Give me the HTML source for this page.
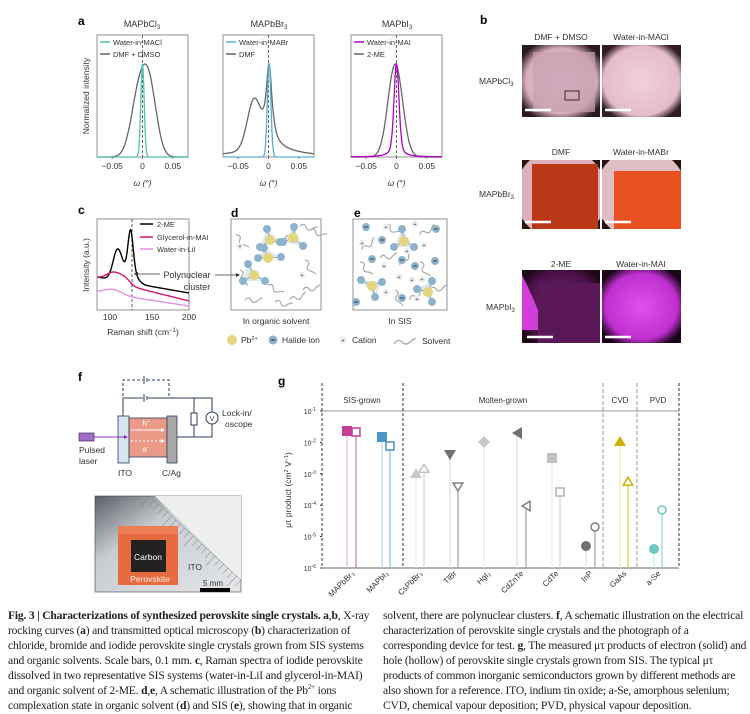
<!DOCTYPE html>
<html><head><meta charset="utf-8"><style>
body{margin:0;background:#fff;width:750px;height:714px;overflow:hidden;position:relative}
svg{position:absolute;left:0;top:0}
text{font-family:"Liberation Sans",sans-serif;fill:#333}
.cap{position:absolute;font-family:"Liberation Serif",serif;font-size:11.6px;line-height:15px;color:#222;width:370px;letter-spacing:-0.2px}
</style></head><body>
<svg id="s" width="750" height="714" viewBox="0 0 750 714">
<defs>
<radialGradient id="gc1" cx="0.5" cy="0.5" r="0.6"><stop offset="0" stop-color="#e8c8d4"/><stop offset="0.75" stop-color="#d8aebc"/><stop offset="1" stop-color="#2a1a20"/></radialGradient>
<radialGradient id="gc2" cx="0.5" cy="0.5" r="0.6"><stop offset="0" stop-color="#f0d0dc"/><stop offset="0.8" stop-color="#e4bccb"/><stop offset="1" stop-color="#301c24"/></radialGradient>
<radialGradient id="gi1" cx="0.5" cy="0.5" r="0.6"><stop offset="0" stop-color="#7a2a7a"/><stop offset="0.8" stop-color="#4a1048"/><stop offset="1" stop-color="#200818"/></radialGradient>
<radialGradient id="gi2" cx="0.5" cy="0.5" r="0.6"><stop offset="0" stop-color="#e050f0"/><stop offset="0.75" stop-color="#c030d0"/><stop offset="1" stop-color="#1a0418"/></radialGradient>
<clipPath id="cb1"><rect x="522" y="160" width="78" height="69"/></clipPath>
<clipPath id="cb2"><rect x="602" y="160" width="79" height="69"/></clipPath>
<clipPath id="ci1"><rect x="522" y="270" width="78" height="73"/></clipPath>
<linearGradient id="ph" x1="0" y1="0" x2="1" y2="1"><stop offset="0" stop-color="#5a6068"/><stop offset="0.35" stop-color="#c8ccd0"/><stop offset="1" stop-color="#e4e6e8"/></linearGradient>
</defs>
<g font-size="8">
<text x="78" y="25" font-weight="bold" font-size="12" style="fill:#000">a</text>
<text x="480" y="24" font-weight="bold" font-size="12" style="fill:#000">b</text>
<text x="78" y="214" font-weight="bold" font-size="12" style="fill:#000">c</text>
<text x="231" y="217" font-weight="bold" font-size="12" style="fill:#000">d</text>
<text x="354" y="217" font-weight="bold" font-size="12" style="fill:#000">e</text>
<text x="78" y="381" font-weight="bold" font-size="12" style="fill:#000">f</text>
<text x="278" y="385" font-weight="bold" font-size="12" style="fill:#000">g</text>

<text x="142" y="27" text-anchor="middle" font-size="9">MAPbCl<tspan font-size="6" dy="2">3</tspan></text>
<text x="269" y="27" text-anchor="middle" font-size="9">MAPbBr<tspan font-size="6" dy="2">3</tspan></text>
<text x="397" y="27" text-anchor="middle" font-size="9">MAPbI<tspan font-size="6" dy="2">3</tspan></text>
<text transform="translate(89,96) rotate(-90)" text-anchor="middle" font-size="8.5">Normalized intensity</text>
<g id="pa"></g>

<text x="561" y="40" text-anchor="middle" font-size="8.5">DMF + DMSO</text>
<text x="641" y="40" text-anchor="middle" font-size="8.5">Water-in-MACl</text>
<text x="561" y="155" text-anchor="middle" font-size="8.5">DMF</text>
<text x="641" y="155" text-anchor="middle" font-size="8.5">Water-in-MABr</text>
<text x="561" y="267" text-anchor="middle" font-size="8.5">2-ME</text>
<text x="641" y="267" text-anchor="middle" font-size="8.5">Water-in-MAI</text>
<text x="479" y="84" font-size="8.5">MAPbCl<tspan font-size="6" dy="2">3</tspan></text>
<text x="479" y="197" font-size="8.5">MAPbBr<tspan font-size="6" dy="2">3</tspan></text>
<text x="486" y="310" font-size="8.5">MAPbI<tspan font-size="6" dy="2">3</tspan></text>
<rect x="522" y="45" width="78" height="72" fill="url(#gc1)"/>
<rect x="533" y="52" width="62" height="60" fill="#c8a0b0" opacity="0.7"/>
<rect x="565" y="91" width="14" height="9" fill="none" stroke="#3a2a2a"/>
<rect x="602" y="45" width="79" height="72" fill="url(#gc2)"/>
<g clip-path="url(#cb1)">
<rect x="522" y="160" width="78" height="69" fill="#2a1410"/>
<circle cx="561" cy="194" r="46" fill="#dcb0b8"/>
<rect x="532" y="164" width="66" height="65" fill="#b83818"/>
</g>
<g clip-path="url(#cb2)">
<rect x="602" y="160" width="79" height="69" fill="#2a1410"/>
<circle cx="641" cy="194" r="46" fill="#e0bcc4"/>
<rect x="614" y="171" width="67" height="58" fill="#e85020"/>
</g>
<g clip-path="url(#ci1)">
<rect x="522" y="270" width="78" height="73" fill="url(#gi1)"/>
<path d="M522 275 Q535 300 545 330 L522 330 Z" fill="#d040d8"/>
<rect x="538" y="283" width="62" height="60" fill="#5a1858"/>
</g>
<rect x="602" y="270" width="79" height="73" fill="url(#gi2)"/>
<g stroke="#fff" stroke-width="2.5">
<line x1="525" y1="110" x2="551" y2="110"/><line x1="605" y1="110" x2="631" y2="110"/>
<line x1="525" y1="222" x2="551" y2="222"/><line x1="605" y1="222" x2="631" y2="222"/>
<line x1="527" y1="337" x2="553" y2="337"/><line x1="605" y1="337" x2="631" y2="337"/>
</g>

<rect x="97" y="219" width="92" height="91" fill="none" stroke="#777" stroke-width="0.8"/>
<line x1="132" y1="219" x2="132" y2="310" stroke="#333" stroke-dasharray="3,2" stroke-width="0.8"/>
<g id="pc"></g>
<text transform="translate(89,265) rotate(-90)" text-anchor="middle" font-size="8.5">Intensity (a.u.)</text>
<text x="110" y="320" text-anchor="middle" font-size="8.5">100</text>
<text x="152" y="320" text-anchor="middle" font-size="8.5">150</text>
<text x="189" y="320" text-anchor="middle" font-size="8.5">200</text>
<text x="143" y="335" text-anchor="middle" font-size="8.5">Raman shift (cm<tspan font-size="6" dy="-3">−1</tspan><tspan dy="3">)</tspan></text>
<line x1="140" y1="224" x2="153" y2="224" stroke="#000" stroke-width="1.5"/><text x="157" y="227" font-size="7.5">2-ME</text>
<line x1="140" y1="237" x2="153" y2="237" stroke="#d6156f" stroke-width="1.5"/><text x="157" y="240" font-size="7.5">Glycerol-in-MAI</text>
<line x1="140" y1="249" x2="153" y2="249" stroke="#e090e0" stroke-width="1.5"/><text x="157" y="252" font-size="7.5">Water-in-LiI</text>
<line x1="134" y1="274" x2="160" y2="274" stroke="#333" stroke-width="0.8"/><path d="M134 274 l4 -2 v4z" fill="#333"/>
<line x1="215" y1="275" x2="238" y2="275" stroke="#333" stroke-width="0.8"/><path d="M240 275 l-4 -2 v4z" fill="#333"/>
<text x="187" y="278" text-anchor="middle" font-size="9">Polynuclear</text>
<text x="197" y="290" text-anchor="middle" font-size="9">cluster</text>

<rect x="231" y="219" width="90" height="91" fill="none" stroke="#777" stroke-width="0.8"/>
<rect x="353" y="219" width="94" height="91" fill="none" stroke="#777" stroke-width="0.8"/>
<g id="pde"></g>
<text x="276" y="324" text-anchor="middle" font-size="8.5">In organic solvent</text>
<text x="400" y="324" text-anchor="middle" font-size="8.5">In SIS</text>
<circle cx="232" cy="340" r="5" fill="#e3d67e"/><text x="241" y="343" font-size="8.5">Pb<tspan font-size="5.5" dy="-3">2+</tspan></text>
<circle cx="273" cy="340" r="4.5" fill="#8fb2cc"/><line x1="271" y1="340" x2="275" y2="340" stroke="#222"/><text x="282" y="343" font-size="8.5">Halide ion</text>
<circle cx="343" cy="340" r="4" fill="#f0f0f0"/><text x="343" y="342.5" font-size="6" text-anchor="middle">+</text><text x="352" y="343" font-size="8.5">Cation</text>
<path d="M394 344 q4 -6 8 -2 t8 0 t6 -3" fill="none" stroke="#aaa" stroke-width="1.3"/><text x="422" y="344" font-size="8.5">Solvent</text>

<g stroke="#2c3e5e" stroke-width="1" fill="none">
<path d="M123 416 V380 H169 V398" stroke-dasharray="3,2"/>
<path d="M123 416 V398 H212 V412"/>
<path d="M177 437 H212 V424"/>
<path d="M194 398 V413 M194 425 V437"/>
<rect x="191" y="413" width="6" height="12" fill="#fff"/>
<circle cx="212" cy="418" r="6" fill="#fff"/>
</g>
<rect x="143" y="376" width="5" height="8" fill="#fff"/><line x1="144" y1="376" x2="144" y2="384" stroke="#2c3e5e"/><line x1="147" y1="378" x2="147" y2="382" stroke="#2c3e5e"/>
<rect x="143" y="394" width="5" height="8" fill="#fff"/><line x1="144" y1="394" x2="144" y2="402" stroke="#2c3e5e"/><line x1="147" y1="396" x2="147" y2="400" stroke="#2c3e5e"/>
<text x="212" y="421" text-anchor="middle" font-size="7">V</text>
<rect x="118" y="416" width="11" height="47" fill="#d6e4f0" stroke="#2c3e5e" stroke-width="0.8"/>
<rect x="129" y="418" width="38" height="39" fill="#ec9a88" stroke="#2c3e5e" stroke-width="0.8"/>
<rect x="167" y="416" width="10" height="47" fill="#a8a8a8" stroke="#2c3e5e" stroke-width="0.8"/>
<line x1="131" y1="430" x2="162" y2="430" stroke="#fff" stroke-width="1"/><path d="M165 430 l-4 -2 v4z" fill="#fff"/>
<line x1="131" y1="441" x2="162" y2="441" stroke="#fff" stroke-width="1" stroke-dasharray="2,2"/><path d="M165 441 l-4 -2 v4z" fill="#fff"/>
<text x="146" y="426" text-anchor="middle" font-size="8" style="fill:#fff">h<tspan font-size="5" dy="-3">+</tspan></text>
<text x="146" y="452" text-anchor="middle" font-size="8" style="fill:#fff">e<tspan font-size="5" dy="-3">−</tspan></text>
<rect x="79" y="433" width="15" height="8" fill="#a070c8" stroke="#4a2a6a" stroke-width="0.7"/>
<line x1="94" y1="437" x2="124" y2="437" stroke="#8030c0" stroke-width="1"/><path d="M128 437 l-4 -2 v4z" fill="#8030c0"/>
<text x="79" y="453" font-size="8.5">Pulsed</text><text x="79" y="464" font-size="8.5">laser</text>
<text x="118" y="476" font-size="8.5">ITO</text><text x="162" y="476" font-size="8.5">C/Ag</text>
<text x="222" y="416" font-size="8.5">Lock-in/</text><text x="225" y="427" font-size="8.5">oscope</text>
<rect x="95" y="496" width="146" height="96" fill="url(#ph)" stroke="#444" stroke-width="0.6"/>
<path d="M155 496 L241 496 L241 580 Z" fill="#eef0f0"/>
<g id="ruler" stroke="#666" stroke-width="0.5"></g>
<rect x="118" y="526" width="60" height="59" fill="#e86a40"/>
<rect x="118" y="526" width="60" height="8" fill="#f08a60" opacity="0.6"/>
<rect x="131" y="540" width="35" height="32" fill="#222"/>
<text x="148" y="560" text-anchor="middle" font-size="8.5" style="fill:#fff">Carbon</text>
<text x="150" y="582" text-anchor="middle" font-size="8.5" style="fill:#fff0e8">Perovskite</text>
<text x="188" y="570" font-size="8.5">ITO</text>
<text x="203" y="586" font-size="8">5 mm</text>
<rect x="200" y="588" width="30" height="4" fill="#000"/>
<g id="pg"></g>
</g>
</svg>
<div class="cap" style="left:8px;top:608px"><b>Fig. 3 | Characterizations of synthesized perovskite single crystals. a</b>,<b>b</b>, X-ray rocking curves (<b>a</b>) and transmitted optical microscopy (<b>b</b>) characterization of chloride, bromide and iodide perovskite single crystals grown from SIS systems and organic solvents. Scale bars, 0.1 mm. <b>c</b>, Raman spectra of iodide perovskite dissolved in two representative SIS systems (water-in-LiI and glycerol-in-MAI) and organic solvent of 2-ME. <b>d</b>,<b>e</b>, A schematic illustration of the Pb<sup style="font-size:7px;line-height:0">2+</sup> ions complexation state in organic solvent (<b>d</b>) and SIS (<b>e</b>), showing that in organic</div>
<div class="cap" style="left:383px;top:608px">solvent, there are polynuclear clusters. <b>f</b>, A schematic illustration on the electrical characterization of perovskite single crystals and the photograph of a corresponding device for test. <b>g</b>, The measured μτ products of electron (solid) and hole (hollow) of perovskite single crystals grown from SIS. The typical μτ products of common inorganic semiconductors grown by different methods are also shown for a reference. ITO, indium tin oxide; a-Se, amorphous selenium; CVD, chemical vapour deposition; PVD, physical vapour deposition.</div>
<script>
const NS="http://www.w3.org/2000/svg";
function el(p,t,a,txt){const e=document.createElementNS(NS,t);for(const k in a)e.setAttribute(k,a[k]);if(txt!==undefined)e.textContent=txt;document.getElementById(p).appendChild(e);return e;}
const G=(x,m,s)=>Math.exp(-((x-m)**2)/(2*s*s));
const L=(x,m,w)=>1/(1+((x-m)/w)**2);
const plots=[[97,[["#666",x=>0.9*G(x,-0.006,0.013)+0.9*G(x,0.012,0.012)],["#4fc3b0",x=>G(x,0,0.0028)]],["Water-in-MACl","DMF + DMSO"],"#4fc3b0"],
[223,[["#666",x=>0.72*L(x,0.001,0.006)+0.42*G(x,-0.024,0.011)+0.08*L(x,0,0.05)],["#5aaedc",x=>G(x,0.001,0.003)]],["Water-in-MABr","DMF"],"#5aaedc"],
[351,[["#666",x=>G(x,-0.002,0.012)],["#b000c8",x=>0.8*G(x,0,0.004)+0.2*L(x,0,0.008)]],["Water-in-MAI","2-ME"],"#b000c8"]];
plots.forEach(([x0,curves,leg,col])=>{
 const w=91,top=35,bot=157,pk=64;
 const X=v=>x0+(v+0.075)/0.15*w;
 el("pa","rect",{x:x0,y:top,width:w,height:bot-top,fill:"none",stroke:"#777","stroke-width":0.8});
 el("pa","line",{x1:X(0),y1:top,x2:X(0),y2:bot,stroke:"#444","stroke-dasharray":"3,2","stroke-width":0.8});
 curves.forEach(([c,f])=>{let mx=0;for(let v=-0.075;v<=0.075;v+=0.0005)mx=Math.max(mx,f(v));let d="";for(let v=-0.075;v<=0.0751;v+=0.0005){d+=(d?"L":"M")+X(v).toFixed(1)+" "+(bot-(f(v)/mx)*(bot-pk)).toFixed(1);}el("pa","path",{d,fill:"none",stroke:c,"stroke-width":1.3});});
 [-0.05,0,0.05].forEach(v=>{el("pa","line",{x1:X(v),y1:bot,x2:X(v),y2:bot+2,stroke:"#777"});el("pa","text",{x:X(v),y:bot+12,"text-anchor":"middle","font-size":8.5},v===0?"0":v.toFixed(2).replace("-","−"))});
 el("pa","text",{x:X(0),y:186,"text-anchor":"middle","font-size":8.5,"font-style":"italic"},"ω (°)");
 el("pa","line",{x1:x0+3,y1:42,x2:x0+13,y2:42,stroke:col,"stroke-width":1.5});
 el("pa","text",{x:x0+16,y:45,"font-size":7.5},leg[0]);
 el("pa","line",{x1:x0+3,y1:54,x2:x0+13,y2:54,stroke:"#666","stroke-width":1.5});
 el("pa","text",{x:x0+16,y:57,"font-size":7.5},leg[1]);
});
const CX2=v=>110+(v-100)*0.79;
function lin(v,a,b){return a+(b-a)*(v-84)/116;}
const cf=[["#000",v=>lin(v,277,293)-26*G(v,109,5.5)-42*G(v,126,3.3)-10*G(v,117,7)-8*G(v,130,6)],
["#d6156f",v=>lin(v,278,301)-10*G(v,106,10)-4*G(v,120,6)],
["#e090e0",v=>lin(v,292,306)-5*G(v,104,11)]];
cf.forEach(([c,f])=>{let d="";for(let v=84;v<=200;v+=0.5){d+=(d?"L":"M")+CX2(v).toFixed(1)+" "+f(v).toFixed(1);}el("pc","path",{d,fill:"none",stroke:c,"stroke-width":1.4});});
function wave(x,y,r){el("pde","path",{d:`M${x} ${y} q3 -5 6 -1 t6 0 t5 -4`,transform:`rotate(${r} ${x} ${y})`,fill:"none",stroke:"#aaa","stroke-width":1.2});}
function hal(x,y,minus){el("pde","circle",{cx:x,cy:y,r:4,fill:"#8fb2cc"});if(minus)el("pde","line",{x1:x-2,y1:y,x2:x+2,y2:y,stroke:"#222","stroke-width":0.8});}
function cat(x,y){el("pde","circle",{cx:x,cy:y,r:3.5,fill:"#efefef"});el("pde","text",{x:x,y:y+2,"text-anchor":"middle","font-size":5.5},"+");}
function cl(x,y,hs){el("pde","polygon",{points:hs.map(h=>h.join(",")).join(" "),fill:"#cfe0ea",opacity:0.7});hs.forEach(h=>{el("pde","line",{x1:x,y1:y,x2:h[0],y2:h[1],stroke:"#555","stroke-width":0.5})});el("pde","circle",{cx:x,cy:y,r:5,fill:"#e3d67e"});hs.forEach(h=>hal(h[0],h[1],false));}
[[236,235,60],[285,240,-30],[300,226,20],[240,270,80],[268,285,40],[290,300,-10],[245,300,10],[305,260,70],[303,290,0],[275,302,20],[310,230,30]].forEach(a=>wave(...a));
cl(270,240,[[267,229],[260,247],[280,242]]);cl(293,238,[[294,227],[283,242],[303,246]]);cl(268,258,[[258,258],[281,257],[264,248]]);
cl(254,275,[[248,264],[243,281],[265,281]]);
cat(240,246);cat(302,275);
[[362,250,-30],[385,225,40],[420,235,-20],[360,262,60],[380,258,0],[400,265,-40],[420,262,70],[395,290,80],[430,290,0],[410,300,-30]].forEach(a=>wave(...a));
cl(404,241,[[402,229],[394,247],[414,247]]);cl(372,286,[[361,280],[375,297],[382,282]]);cl(428,292,[[417,289],[432,302],[432,281]]);
[[366,227],[436,229],[382,240],[372,259],[402,260],[415,266],[435,261],[402,298],[356,302]].forEach(p=>hal(p[0],p[1],true));
[[386,227],[415,224],[362,243],[424,245],[407,251],[384,266],[399,277],[412,280],[417,299],[422,279],[386,292]].forEach(p=>cat(p[0],p[1]));
for(let i=0;i<22;i++){const t=i/21;const x=150+t*91,y=496+t*84;const l=i%5==0?14:8;el("ruler","line",{x1:x,y1:y,x2:x-l*0.68,y2:y+l*0.73});}
el("ruler","line",{x1:150,y1:496,x2:241,y2:580,stroke:"#888"});
const Y=e=>411-(e+1)*31.4;
const gx0=322,gx1=679;
el("pg","line",{x1:gx0,y1:411,x2:gx1,y2:411,stroke:"#bbb","stroke-width":1.5});
[[322,"#333","3,2"],[403,"#333","3,2"],[603,"#999","4,2"],[637,"#999","4,2"],[679,"#333","3,2"]].forEach(([x,c,da])=>el("pg","line",{x1:x,y1:383,x2:x,y2:568,stroke:c,"stroke-dasharray":da,"stroke-width":1}));
el("pg","line",{x1:gx0,y1:568,x2:gx1,y2:568,stroke:"#333","stroke-width":0.8});
[["SIS-grown",362],["Molten-grown",503],["CVD",620],["PVD",658]].forEach(([t,x])=>el("pg","text",{x,y:403,"text-anchor":"middle","font-size":8},t));
for(let e=-1;e>=-6;e--){const y=Y(e);el("pg","line",{x1:gx0-2,y1:y,x2:gx0,y2:y,stroke:"#333"});const t=el("pg","text",{x:316,y:y+3,"text-anchor":"end","font-size":7});t.innerHTML=`10<tspan font-size="5" dy="-3">${e}</tspan>`;}
const yl=el("pg","text",{transform:"translate(291,490) rotate(-90)","text-anchor":"middle","font-size":8.5});yl.innerHTML='μτ product (cm<tspan font-size="5.5" dy="-3">2</tspan><tspan dy="3"> V</tspan><tspan font-size="5.5" dy="-3">−1</tspan><tspan dy="3">)</tspan>';
function mk(x,y,shape,col,hollow,stem){
 el("pg","line",{x1:x,y1:y,x2:x,y2:568,stroke:stem,"stroke-width":1.2});
 const a={fill:hollow?"#fff":col,stroke:col,"stroke-width":hollow?1.5:0};
 const s=5;
 if(shape=="sq")el("pg","rect",Object.assign({x:x-s+(hollow?1:0),y:y-s+(hollow?1:0),width:2*s-(hollow?2:0),height:2*s-(hollow?2:0)},a));
 else if(shape=="c")el("pg","circle",Object.assign({cx:x,cy:y,r:hollow?4:5},a));
 else{let p;if(shape=="up")p=[[x,y-6],[x+6,y+4],[x-6,y+4]];if(shape=="dn")p=[[x,y+5],[x+6,y-5],[x-6,y-5]];if(shape=="lt")p=[[x-5,y],[x+5,y-6],[x+5,y+6]];if(shape=="di")p=[[x,y-6],[x+6,y],[x,y+6],[x-6,y]];if(hollow&&shape!="di")p=p.map(([px,py])=>[x+(px-x)*0.8,y+(py-y)*0.8]);el("pg","polygon",Object.assign({points:p.map(q=>q.join(",")).join(" ")},a));}
}
const M=[[347,431,"sq","#c83c96",0,"#eab4d6"],[356,432,"sq","#c83c96",1,"#d870b4"],
[382,437,"sq","#4a96c8",0,"#b8d6ea"],[390,446,"sq","#4a96c8",1,"#88bcdc"],
[416,474,"up","#c8c8c8",0,"#e8e8e8"],[424,469,"up","#c0c0c0",1,"#d0d0d0"],
[450,455,"dn","#707070",0,"#dcdcdc"],[458,487,"dn","#808080",1,"#a0a0a0"],
[484,442,"di","#c8c8c8",0,"#e8e8e8"],
[517,433,"lt","#707070",0,"#dcdcdc"],[526,506,"lt","#808080",1,"#a0a0a0"],
[552,458,"sq","#c0c0c0",0,"#e8e8e8"],[560,492,"sq","#b0b0b0",1,"#d0d0d0"],
[586,546,"c","#707070",0,"#e0e0e0"],[595,527,"c","#808080",1,"#a0a0a0"],
[620,442,"up","#c8b400",0,"#ece8a8"],[628,482,"up","#c8b400",1,"#d8cc50"],
[654,549,"c","#6ccac0",0,"#c8ecea"],[662,510,"c","#6ccac0",1,"#90d8d0"]];
M.forEach(m=>mk(...m));
[["MAPbBr₃",352],["MAPbI₃",386],["CsPbBr₃",420],["TlBr",454],["HgI₂",488],["CdZnTe",521],["CdTe",556],["InP",590],["GaAs",624],["a-Se",658]].forEach(([t,x])=>el("pg","text",{transform:`translate(${x+3},574) rotate(-45)`,"text-anchor":"end","font-size":8},t));
</script>
</body></html>
